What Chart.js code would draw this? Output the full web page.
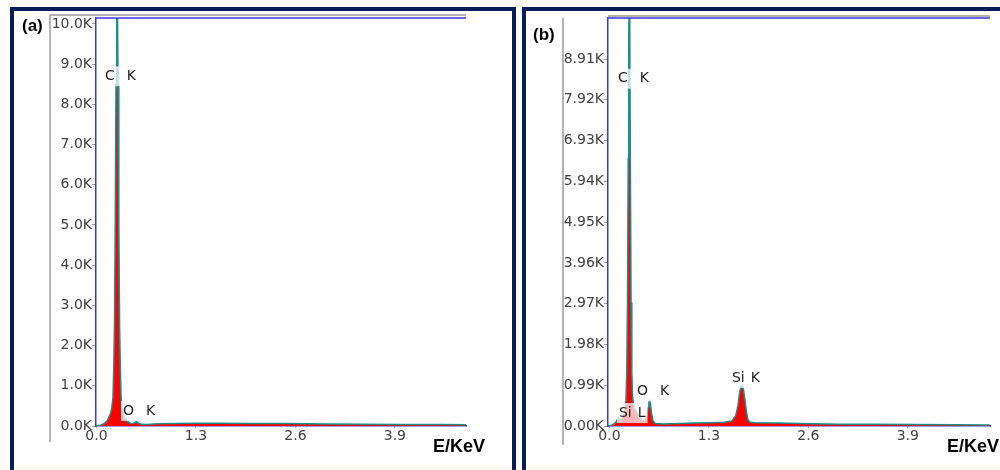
<!DOCTYPE html>
<html>
<head>
<meta charset="utf-8">
<script src="https://cdn.jsdelivr.net/npm/chart.js@4.4.0/dist/chart.umd.min.js"></script>
<style>
  html, body { margin:0; padding:0; background:#ffffff; width:1000px; height:470px; overflow:hidden; }
  .frame { position:absolute; box-sizing:border-box; border:4px solid #0b1d58; background:transparent; }
  canvas { position:absolute; left:0; top:0; }
  .cream { position:absolute; left:0; top:463px; width:1000px; height:7px; background:linear-gradient(#ffffff, #fdfbe9); }
</style>
</head>
<body>
<div class="cream"></div>
<div class="frame" style="left:10px; top:7px; width:506px; height:480px;"></div>
<div class="frame" style="left:522px; top:7px; width:500px; height:480px;"></div>
<canvas id="chartA" width="1000" height="470"></canvas>
<canvas id="chartB" width="1000" height="470"></canvas>
<script>
// ---------- data ----------
const xTicks = [0, 1.3, 2.6, 3.9];
const yTicksA = [0, 1000, 2000, 3000, 4000, 5000, 6000, 7000, 8000, 9000, 10000];
const yTicksB = [0, 990, 1980, 2970, 3960, 4950, 5940, 6930, 7920, 8910];

// panel (a) spectrum: energy (keV) and counts
const energyA = [0.00, 0.05, 0.10, 0.14, 0.18, 0.20, 0.215, 0.225, 0.235, 0.245, 0.255, 0.262, 0.268, 0.275, 0.282, 0.292, 0.302, 0.312, 0.322, 0.335, 0.36, 0.40, 0.44, 0.48, 0.50, 0.52, 0.54, 0.57, 0.65, 0.80, 1.00, 1.30, 1.60, 2.00, 2.50, 3.00, 3.50, 4.00, 4.50, 4.83];
const countsA = [0, 20, 60, 130, 300, 450, 700, 1400, 2500, 5000, 8500, 10200, 10600, 10200, 8500, 5000, 2500, 1400, 700, 450, 250, 120, 70, 60, 80, 110, 80, 50, 40, 55, 65, 70, 70, 65, 60, 50, 45, 40, 35, 30];

// panel (b) spectrum
const energyB = [0.00, 0.04, 0.08, 0.10, 0.12, 0.14, 0.17, 0.20, 0.215, 0.225, 0.235, 0.245, 0.252, 0.258, 0.265, 0.272, 0.282, 0.292, 0.302, 0.32, 0.35, 0.38, 0.42, 0.46, 0.49, 0.505, 0.515, 0.525, 0.535, 0.55, 0.57, 0.60, 0.70, 0.90, 1.10, 1.30, 1.50, 1.60, 1.65, 1.68, 1.70, 1.72, 1.735, 1.75, 1.77, 1.79, 1.81, 1.84, 1.90, 2.20, 2.50, 3.00, 3.50, 4.00, 4.50, 4.97];
const countsB = [0, 30, 80, 150, 200, 120, 200, 350, 600, 1300, 3000, 6500, 9500, 10300, 9500, 6500, 3000, 1300, 700, 450, 350, 250, 150, 120, 250, 450, 600, 620, 550, 300, 120, 60, 50, 60, 70, 80, 90, 120, 250, 500, 800, 960, 990, 900, 650, 350, 150, 90, 80, 70, 60, 45, 40, 35, 30, 25];

// peak labels: element, line, anchor energy (keV), anchor counts
const labelsA = [
  { name: 'C', line: 'K', e: 0.11, c: 8700 },
  { name: 'O', line: 'K', e: 0.346, c: 373 }
];
const labelsB = [
  { name: 'C', line: 'K', e: 0.111, c: 8430 },
  { name: 'O', line: 'K', e: 0.36, c: 840 },
  { name: 'Si', line: 'L', e: 0.124, c: 316 },
  { name: 'Si', line: 'K', e: 1.60, c: 1167 }
];

// ---------- drawing ----------
Chart.defaults.devicePixelRatio = 1;
const TICK_FONT = { family: 'DejaVu Sans', size: 14 };
const BLUE = '#3838e0';
const GRAY = '#9a9a9a';

function decoPlugin(opts) {
  return {
    id: 'deco',
    afterDatasetsDraw(chart) {
      const ctx = chart.ctx;
      const a = chart.chartArea;
      const xs = chart.scales.x, ys = chart.scales.y;
      ctx.save();
      // gray frame lines
      ctx.strokeStyle = GRAY; ctx.lineWidth = 1.5;
      ctx.beginPath();
      ctx.moveTo(opts.grayX, opts.grayTop); ctx.lineTo(opts.grayX, opts.grayBottom);
      ctx.moveTo(opts.grayTopFrom, opts.grayTopY); ctx.lineTo(a.right, opts.grayTopY);
      ctx.stroke();
      // blue top line of plot box
      ctx.strokeStyle = BLUE; ctx.lineWidth = 1.5;
      ctx.beginPath(); ctx.moveTo(a.left, a.top); ctx.lineTo(a.right, a.top); ctx.stroke();
      // peak labels
      ctx.font = '14px "DejaVu Sans"';
      ctx.textBaseline = 'middle';
      opts.labels.forEach(l => {
        const x = xs.getPixelForValue(l.e);
        const y = ys.getPixelForValue(l.c);
        const gap = l.name.length === 1 ? 12 : 6;
        const w1 = ctx.measureText(l.name).width;
        const w2 = ctx.measureText(l.line).width;
        ctx.fillStyle = 'rgba(255,255,255,0.72)';
        ctx.fillRect(x - 2, y - 10, w1 + gap + w2 + 4, 20);
        ctx.fillStyle = '#1e1e1e';
        ctx.fillText(l.name, x, y);
        ctx.fillText(l.line, x + w1 + gap, y);
      });
      // panel letter and axis title
      ctx.fillStyle = '#000';
      ctx.textBaseline = 'alphabetic';
      ctx.font = 'bold 17px "Liberation Sans"';
      ctx.fillText(opts.letter, opts.letterX, opts.letterY);
      ctx.font = 'bold 18px "Liberation Sans"';
      ctx.fillText('E/KeV', opts.titleX, opts.titleY);
      ctx.restore();
    }
  };
}

function makeChart(id, energy, counts, cfg) {
  const area = cfg.area;
  return new Chart(document.getElementById(id), {
    type: 'line',
    data: {
      datasets: [{
        data: energy.map((e, i) => ({ x: e, y: counts[i] })),
        borderColor: '#1a8f8c',
        borderWidth: 1.5,
        backgroundColor: '#ff0000',
        fill: 'origin',
        pointRadius: 0,
        tension: 0
      }]
    },
    options: {
      responsive: false,
      animation: false,
      events: [],
      layout: { padding: { left: area.left - cfg.yAxisW, right: 1000 - area.right, top: area.top, bottom: 0 } },
      plugins: { legend: { display: false }, tooltip: { enabled: false } },
      scales: {
        x: {
          type: 'linear', min: cfg.xMin, max: cfg.xMax,
          afterFit: s => { s.height = 470 - area.bottom; },
          afterBuildTicks: s => { s.ticks = xTicks.map(v => ({ value: v })); },
          grid: { display: true, drawOnChartArea: false, drawTicks: true, tickLength: 2, color: GRAY },
          border: { display: true, color: BLUE, width: 1.5 },
          ticks: { font: TICK_FONT, color: '#404040', padding: 0, maxRotation: 0, autoSkip: false,
                   callback: v => Number(v).toFixed(1) }
        },
        y: {
          type: 'linear', min: 0, max: cfg.yMax,
          afterFit: s => { s.width = cfg.yAxisW; },
          afterBuildTicks: s => { s.ticks = cfg.yTicks.map(v => ({ value: v })); },
          grid: { display: true, drawOnChartArea: false, drawTicks: true, tickLength: 4, color: GRAY },
          border: { display: true, color: BLUE, width: 1.5 },
          ticks: { font: TICK_FONT, color: '#404040', padding: 0, autoSkip: false,
                   callback: v => (v / 1000).toFixed(cfg.yDec) + 'K' }
        }
      }
    },
    plugins: [decoPlugin(cfg.deco)]
  });
}

makeChart('chartA', energyA, countsA, {
  area: { left: 96, top: 18, right: 466, bottom: 426 },
  yAxisW: 46, xMin: -0.0065, xMax: 4.830, yMax: 10149, yTicks: yTicksA, yDec: 1,
  deco: { grayX: 50, grayTop: 15, grayBottom: 442, grayTopFrom: 50, grayTopY: 15,
          labels: labelsA, letter: '(a)', letterX: 22, letterY: 31, titleX: 433, titleY: 452 }
});

makeChart('chartB', energyB, countsB, {
  area: { left: 608, top: 18, right: 990, bottom: 426 },
  yAxisW: 45, xMin: -0.0196, xMax: 4.974, yMax: 9906, yTicks: yTicksB, yDec: 2,
  deco: { grayX: 563, grayTop: 18, grayBottom: 445, grayTopFrom: 608, grayTopY: 16,
          labels: labelsB, letter: '(b)', letterX: 533, letterY: 40, titleX: 947, titleY: 452 }
});
</script>
</body>
</html>
